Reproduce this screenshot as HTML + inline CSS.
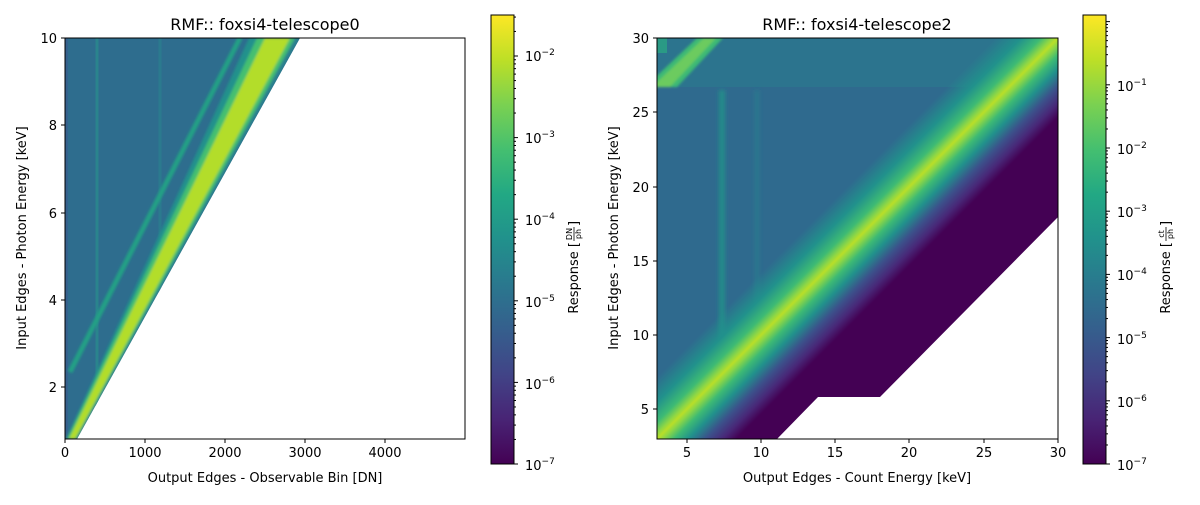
<!DOCTYPE html>
<html><head><meta charset="utf-8"><style>
html,body{margin:0;padding:0;background:#fff;}
svg text{font-family:"DejaVu Sans","Liberation Sans",sans-serif;fill:#000;}
</style></head><body>
<svg id="s" width="1200" height="500" viewBox="0 0 1200 500" xmlns="http://www.w3.org/2000/svg">
<defs>
<linearGradient id="vir" x1="0" y1="1" x2="0" y2="0">
<stop offset="0" stop-color="#440154"/><stop offset="0.1" stop-color="#482475"/><stop offset="0.2" stop-color="#414487"/><stop offset="0.3" stop-color="#355f8d"/><stop offset="0.4" stop-color="#2a788e"/><stop offset="0.5" stop-color="#21918c"/><stop offset="0.6" stop-color="#22a884"/><stop offset="0.7" stop-color="#44bf70"/><stop offset="0.8" stop-color="#7ad151"/><stop offset="0.9" stop-color="#bddf26"/><stop offset="1" stop-color="#fde725"/>
</linearGradient>
<linearGradient id="band" gradientUnits="userSpaceOnUse" x1="477.3" y1="477.3" x2="618.7" y2="618.7">
<stop offset="0.28" stop-color="#21918c" stop-opacity="0"/>
<stop offset="0.37" stop-color="#21918c" stop-opacity="1"/>
<stop offset="0.44" stop-color="#3dba74"/>
<stop offset="0.48" stop-color="#8fd744"/>
<stop offset="0.50" stop-color="#b8de29"/>
<stop offset="0.52" stop-color="#8fd744"/>
<stop offset="0.56" stop-color="#3dba74"/>
<stop offset="0.61" stop-color="#21918c"/>
<stop offset="0.67" stop-color="#3b528b"/>
<stop offset="0.73" stop-color="#482878"/>
<stop offset="0.78" stop-color="#440154"/>
</linearGradient>
<filter id="bl" x="-50%" y="-10%" width="200%" height="120%"><feGaussianBlur stdDeviation="2"/></filter>
<filter id="bl1" x="-50%" y="-10%" width="200%" height="120%"><feGaussianBlur stdDeviation="1.2"/></filter>
<clipPath id="cr"><rect x="657" y="38" width="401" height="401"/></clipPath>
<clipPath id="cl"><polygon points="65,439 65,38 300,38 77,439"/></clipPath>
</defs>

<!-- LEFT PLOT -->
<g clip-path="url(#cl)">
<rect x="65" y="38" width="240" height="401" fill="#2e6d8e"/>
<rect x="65" y="38" width="3" height="401" fill="#3a5a8c" opacity="0.6"/>
<rect x="95.5" y="38" width="3" height="401" fill="#2a848d"/>
<rect x="158.5" y="38" width="3" height="401" fill="#2b7a8e"/>
<g filter="url(#bl1)">
<line x1="70" y1="372" x2="240" y2="38" stroke="#23a085" stroke-width="5"/>
<polygon points="249,38 300,38 77,439 66,439" fill="#21918c"/>
<polygon points="257,38 296,38 77,439 67,439" fill="#44bf70"/>
<polygon points="265,38 290,38 75,439 69,439" fill="#b3dd2c"/>
<polygon points="295,38 300,38 77,439 76,439" fill="#2a808e"/>
</g>
</g>
<rect x="65" y="38" width="400" height="401" fill="none" stroke="#000" stroke-width="1"/>
<text x="265" y="30" font-size="16" text-anchor="middle">RMF:: foxsi4-telescope0</text>
<g font-size="13">
<g stroke="#000"><line x1="65" y1="439" x2="65" y2="443"/><line x1="145" y1="439" x2="145" y2="443"/><line x1="225" y1="439" x2="225" y2="443"/><line x1="305" y1="439" x2="305" y2="443"/><line x1="385" y1="439" x2="385" y2="443"/>
<line x1="61" y1="38" x2="65" y2="38"/><line x1="61" y1="125" x2="65" y2="125"/><line x1="61" y1="213" x2="65" y2="213"/><line x1="61" y1="300" x2="65" y2="300"/><line x1="61" y1="387" x2="65" y2="387"/></g>
<text x="65" y="457" text-anchor="middle">0</text><text x="145" y="457" text-anchor="middle">1000</text><text x="225" y="457" text-anchor="middle">2000</text><text x="305" y="457" text-anchor="middle">3000</text><text x="385" y="457" text-anchor="middle">4000</text>
<text x="57" y="43" text-anchor="end">10</text><text x="57" y="130" text-anchor="end">8</text><text x="57" y="218" text-anchor="end">6</text><text x="57" y="305" text-anchor="end">4</text><text x="57" y="392" text-anchor="end">2</text>
<text x="265" y="482" text-anchor="middle">Output Edges - Observable Bin [DN]</text>
<text transform="translate(26,238) rotate(-90)" text-anchor="middle">Input Edges - Photon Energy [keV]</text>
</g>
<!-- left colorbar -->
<rect x="491" y="15" width="23" height="449" fill="url(#vir)" stroke="#000" stroke-width="1"/>
<g id="lt" stroke="#000"></g>
<g font-size="13">
<text x="525" y="61">10<tspan dy="-6" font-size="9">−2</tspan></text>
<text x="525" y="143">10<tspan dy="-6" font-size="9">−3</tspan></text>
<text x="525" y="225">10<tspan dy="-6" font-size="9">−4</tspan></text>
<text x="525" y="307">10<tspan dy="-6" font-size="9">−5</tspan></text>
<text x="525" y="389">10<tspan dy="-6" font-size="9">−6</tspan></text>
<text x="525" y="470">10<tspan dy="-6" font-size="9">−7</tspan></text>
<g transform="translate(578,240) rotate(-90)"><text x="-2" y="0" text-anchor="end">Response [</text><text x="6" y="-6" font-size="8" text-anchor="middle">DN</text><line x1="-1" y1="-4" x2="13" y2="-4" stroke="#000" stroke-width="0.8"/><text x="6" y="3" font-size="8" text-anchor="middle">ph</text><text x="14" y="0">]</text></g>
</g>

<!-- RIGHT PLOT -->
<g clip-path="url(#cr)">
<rect x="657" y="38" width="401" height="401" fill="#2f6a8e"/>
<rect x="657" y="38" width="401" height="49" fill="#2c748e"/>
<rect x="657" y="38" width="10" height="15" fill="#2a9a85"/>
<g filter="url(#bl1)">
<polygon points="645,87 677,87 723,38 697,38" fill="#3dba74"/>
<polygon points="652,87 670,87 716,38 704,38" fill="#6ccb5f"/>
</g>
<g filter="url(#bl)">
<line x1="722" y1="90" x2="722" y2="390" stroke="#22978a" stroke-width="6" opacity="0.8"/>
<line x1="757" y1="90" x2="757" y2="390" stroke="#2a808e" stroke-width="5" opacity="0.6"/>
</g>
<rect x="657" y="38" width="401" height="401" fill="url(#band)"/>
<polygon points="776,440 818,397 880,397 1059,216 1059,440" fill="#fff"/>
</g>
<rect x="657" y="38" width="401" height="401" fill="none" stroke="#000" stroke-width="1"/>
<text x="857" y="30" font-size="16" text-anchor="middle">RMF:: foxsi4-telescope2</text>
<g font-size="13">
<g stroke="#000"><line x1="687" y1="439" x2="687" y2="443"/><line x1="761" y1="439" x2="761" y2="443"/><line x1="835" y1="439" x2="835" y2="443"/><line x1="909" y1="439" x2="909" y2="443"/><line x1="984" y1="439" x2="984" y2="443"/><line x1="1058" y1="439" x2="1058" y2="443"/>
<line x1="653" y1="38" x2="657" y2="38"/><line x1="653" y1="112" x2="657" y2="112"/><line x1="653" y1="187" x2="657" y2="187"/><line x1="653" y1="261" x2="657" y2="261"/><line x1="653" y1="335" x2="657" y2="335"/><line x1="653" y1="409" x2="657" y2="409"/></g>
<text x="687" y="457" text-anchor="middle">5</text><text x="761" y="457" text-anchor="middle">10</text><text x="835" y="457" text-anchor="middle">15</text><text x="909" y="457" text-anchor="middle">20</text><text x="984" y="457" text-anchor="middle">25</text><text x="1058" y="457" text-anchor="middle">30</text>
<text x="649" y="43" text-anchor="end">30</text><text x="649" y="117" text-anchor="end">25</text><text x="649" y="192" text-anchor="end">20</text><text x="649" y="266" text-anchor="end">15</text><text x="649" y="340" text-anchor="end">10</text><text x="649" y="414" text-anchor="end">5</text>
<text x="857" y="482" text-anchor="middle">Output Edges - Count Energy [keV]</text>
<text transform="translate(618,238) rotate(-90)" text-anchor="middle">Input Edges - Photon Energy [keV]</text>
</g>
<rect x="1083" y="15" width="23" height="449" fill="url(#vir)" stroke="#000" stroke-width="1"/>
<g id="rt" stroke="#000"></g>
<g font-size="13">
<text x="1117" y="91">10<tspan dy="-6" font-size="9">−1</tspan></text>
<text x="1117" y="154">10<tspan dy="-6" font-size="9">−2</tspan></text>
<text x="1117" y="217">10<tspan dy="-6" font-size="9">−3</tspan></text>
<text x="1117" y="280">10<tspan dy="-6" font-size="9">−4</tspan></text>
<text x="1117" y="344">10<tspan dy="-6" font-size="9">−5</tspan></text>
<text x="1117" y="407">10<tspan dy="-6" font-size="9">−6</tspan></text>
<text x="1117" y="470">10<tspan dy="-6" font-size="9">−7</tspan></text>
<g transform="translate(1170,240) rotate(-90)"><text x="-2" y="0" text-anchor="end">Response [</text><text x="6" y="-6" font-size="8" text-anchor="middle">ct</text><line x1="-1" y1="-4" x2="13" y2="-4" stroke="#000" stroke-width="0.8"/><text x="6" y="3" font-size="8" text-anchor="middle">ph</text><text x="14" y="0">]</text></g>
</g>
</svg>
<script>
function ticks(id,x,per,dec){var g=document.getElementById(id),ns="http://www.w3.org/2000/svg";
for(var d=0;d<dec;d++)for(var m=1;m<10;m++){var y=464-(d+Math.log10(m))*per;if(y<15)continue;
var l=document.createElementNS(ns,"line");l.setAttribute("x1",x);l.setAttribute("x2",x+(m==1?4:2));l.setAttribute("y1",y);l.setAttribute("y2",y);g.appendChild(l);}}
ticks("lt",514,81.6,6);ticks("rt",1106,63.2,8);
</script>
</body></html>
